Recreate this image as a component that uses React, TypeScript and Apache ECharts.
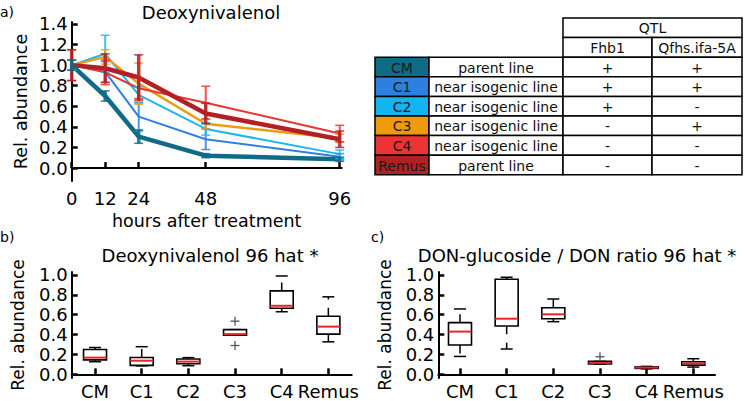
import React, { useEffect, useRef } from "react";
import * as echarts from "echarts";

const FONT = "DejaVu Sans";

// ---- panel a: time course ----
const hours = [0, 12, 24, 48, 96];
const yTicksTop = [0, 0.2, 0.4, 0.6, 0.8, 1.0, 1.2, 1.4];
const lineNames = ["CM", "C1", "C2", "C3", "C4", "Remus"];
const lineColors = ["#0f6b87", "#2f80e0", "#1cb5ef", "#ef9a14", "#ea3434", "#b31f24"];
const lineWidths = [4.5, 2, 2, 2.5, 2, 4.5];
const cmMean = [1.0, 0.70, 0.305, 0.12, 0.085];
const cmErr = [0.05, 0.05, 0.065, 0.02, 0.02];
const c1Mean = [1.0, 0.935, 0.50, 0.28, 0.11];
const c1Err = [0.05, 0.1, 0.14, 0.1, 0.03];
const c2Mean = [1.0, 1.11, 0.71, 0.38, 0.135];
const c2Err = [0.05, 0.18, 0.08, 0.06, 0.04];
const c3Mean = [1.0, 1.08, 0.82, 0.43, 0.29];
const c3Err = [0.05, 0.07, 0.2, 0.05, 0.04];
const c4Mean = [1.0, 0.93, 0.775, 0.635, 0.335];
const c4Err = [0.15, 0.12, 0.1, 0.16, 0.08];
const remusMean = [1.0, 0.97, 0.88, 0.53, 0.28];
const remusErr = [0.15, 0.14, 0.22, 0.1, 0.08];
const means = [cmMean, c1Mean, c2Mean, c3Mean, c4Mean, remusMean];
const errs = [cmErr, c1Err, c2Err, c3Err, c4Err, remusErr];
const drawOrder = [1, 2, 3, 4, 5, 0];

// ---- panels b, c: box plots ----
const boxCats = ["CM", "C1", "C2", "C3", "C4", "Remus"];
const boxTicks = [1, 2, 3, 4, 5, 6];
const yTicksBox = [0, 0.2, 0.4, 0.6, 0.8, 1.0];
// [low whisker, q1, median, q3, high whisker]
const donBoxes = [
  [0.127, 0.145, 0.168, 0.25, 0.27],
  [0.085, 0.09, 0.137, 0.17, 0.278],
  [0.087, 0.107, 0.128, 0.155, 0.168],
  [0.395, 0.395, 0.405, 0.45, 0.45],
  [0.63, 0.665, 0.69, 0.84, 0.99],
  [0.327, 0.405, 0.48, 0.585, 0.78],
];
const donOutliers = [
  [4, 0.535],
  [4, 0.29],
];
const ratioBoxes = [
  [0.18, 0.295, 0.43, 0.52, 0.658],
  [0.255, 0.487, 0.56, 0.957, 0.977],
  [0.53, 0.56, 0.604, 0.67, 0.758],
  [0.105, 0.105, 0.115, 0.13, 0.13],
  [0.055, 0.06, 0.068, 0.075, 0.08],
  [0.073, 0.093, 0.11, 0.127, 0.157],
];
const ratioOutliers = [[4, 0.177]];

// ---- table ----
const tableColors = ["#0e6c86", "#2d80e0", "#14b4f0", "#ef9a0c", "#ed3434", "#b02222"];
const tableDesc = ["parent line", "near isogenic line", "near isogenic line", "near isogenic line", "near isogenic line", "parent line"];
const tableFhb1 = ["+", "+", "+", "-", "-", "-"];
const tableQfhs = ["+", "+", "-", "+", "-", "-"];

const axisLine = { show: true, lineStyle: { color: "#000", width: 2 } };
const tickBase = { show: true, inside: true, length: 6, lineStyle: { color: "#000", width: 2.5 } };
const labelBase = { color: "#000", fontFamily: FONT, fontSize: 18 };
const nameStyle = { color: "#000", fontFamily: FONT, fontSize: 17.5 };

function boxRender(params: any, api: any) {
  const i = api.value(0);
  const low = api.value(1), q1 = api.value(2), med = api.value(3), q3 = api.value(4), high = api.value(5);
  const x = api.coord([i, med])[0];
  const Y = (v: number) => api.coord([i, v])[1];
  const hw = 11.5, cw = 6;
  const black = { stroke: "#000", lineWidth: 1.5 };
  const dash = { stroke: "#000", lineWidth: 1.5, lineDash: [8.4, 8.4] };
  return {
    type: "group",
    children: [
      { type: "line", shape: { x1: x, y1: Y(q3), x2: x, y2: Y(high) }, style: dash },
      { type: "line", shape: { x1: x, y1: Y(q1), x2: x, y2: Y(low) }, style: dash },
      { type: "line", shape: { x1: x - cw, y1: Y(high), x2: x + cw, y2: Y(high) }, style: black },
      { type: "line", shape: { x1: x - cw, y1: Y(low), x2: x + cw, y2: Y(low) }, style: black },
      { type: "rect", shape: { x: x - hw, y: Y(q3), width: 2 * hw, height: Y(q1) - Y(q3) }, style: { fill: "#fff", stroke: "#000", lineWidth: 1.6 } },
      { type: "line", shape: { x1: x - hw, y1: Y(med), x2: x + hw, y2: Y(med) }, style: { stroke: "#e8262a", lineWidth: 2 } },
    ],
  };
}

function plusRender(params: any, api: any) {
  const p = api.coord([api.value(0), api.value(1)]);
  const s = 4.5;
  const st = { stroke: "#555", lineWidth: 1.3 };
  return {
    type: "group",
    children: [
      { type: "line", shape: { x1: p[0] - s, y1: p[1], x2: p[0] + s, y2: p[1] }, style: st },
      { type: "line", shape: { x1: p[0], y1: p[1] - s, x2: p[0], y2: p[1] + s }, style: st },
    ],
  };
}

function buildTable() {
  const els: any[] = [];
  const cx = [375, 429, 563, 652, 742];
  const top = 18;
  const rh = 19.6;
  const stroke = { stroke: "#000", lineWidth: 1.5 };
  const tfont = `14px '${FONT}'`;
  const txt = (t: string, x: number, y: number, fill = "#111") => ({
    type: "text",
    x,
    y,
    style: { text: t, align: "center", verticalAlign: "middle", font: tfont, fill },
    z: 10,
  });
  els.push({ type: "rect", shape: { x: cx[2], y: top, width: cx[4] - cx[2], height: rh }, style: { fill: "#fff", ...stroke } });
  els.push(txt("QTL", (cx[2] + cx[4]) / 2, top + rh / 2 + 0.5));
  els.push({ type: "rect", shape: { x: cx[2], y: top + rh, width: cx[3] - cx[2], height: rh }, style: { fill: "#fff", ...stroke } });
  els.push({ type: "rect", shape: { x: cx[3], y: top + rh, width: cx[4] - cx[3], height: rh }, style: { fill: "#fff", ...stroke } });
  els.push(txt("Fhb1", (cx[2] + cx[3]) / 2, top + rh * 1.5 + 0.5));
  els.push(txt("Qfhs.ifa-5A", (cx[3] + cx[4]) / 2, top + rh * 1.5 + 0.5));
  for (let r = 0; r < lineNames.length; r++) {
    const y = top + rh * (2 + r);
    const vals = [lineNames[r], tableDesc[r], tableFhb1[r], tableQfhs[r]];
    for (let c = 0; c < 4; c++) {
      els.push({
        type: "rect",
        shape: { x: cx[c], y, width: cx[c + 1] - cx[c], height: rh },
        style: { fill: c === 0 ? tableColors[r] : "#fff", ...stroke },
      });
      els.push(txt(vals[c], (cx[c] + cx[c + 1]) / 2, y + rh / 2 + 0.5, c === 0 ? "#1a1a1a" : "#111"));
    }
  }
  return els;
}

export default function App() {
  const ref = useRef<HTMLDivElement>(null);
  useEffect(() => {
    document.body.style.margin = "0";
    const chart = echarts.init(ref.current!, null, { renderer: "svg" });
    const series: any[] = [];
    drawOrder.forEach((k) => {
      series.push({
        type: "line",
        name: lineNames[k],
        xAxisIndex: 0,
        yAxisIndex: 0,
        data: hours.map((h, i) => [h, means[k][i]]),
        symbol: "none",
        lineStyle: { color: lineColors[k], width: lineWidths[k] },
        itemStyle: { color: lineColors[k] },
        z: 2,
      });
      series.push({
        type: "custom",
        xAxisIndex: 0,
        yAxisIndex: 0,
        silent: true,
        data: hours.map((h, i) => [h, means[k][i], errs[k][i]]),
        encode: { x: 0, y: 1 },
        z: 3,
        renderItem: (params: any, api: any) => {
          const x = api.value(0), y = api.value(1), e = api.value(2);
          const t = api.coord([x, y + e]);
          const b = api.coord([x, y - e]);
          const w = lineWidths[k] > 3 ? 3.5 : 2;
          const st = { stroke: lineColors[k], lineWidth: w, opacity: 0.85 };
          const cw = 4.5;
          return {
            type: "group",
            children: [
              { type: "line", shape: { x1: t[0], y1: t[1], x2: b[0], y2: b[1] }, style: st },
              { type: "line", shape: { x1: t[0] - cw, y1: t[1], x2: t[0] + cw, y2: t[1] }, style: { ...st, lineWidth: 1.5 } },
              { type: "line", shape: { x1: b[0] - cw, y1: b[1], x2: b[0] + cw, y2: b[1] }, style: { ...st, lineWidth: 1.5 } },
            ],
          };
        },
      });
    });
    [donBoxes, ratioBoxes].forEach((boxes, g) => {
      series.push({
        type: "custom",
        xAxisIndex: g + 1,
        yAxisIndex: g + 1,
        silent: true,
        data: boxes.map((b, i) => [i + 1, ...b]),
        encode: { x: 0, y: [1, 2, 3, 4, 5] },
        renderItem: boxRender,
        z: 3,
      });
      series.push({
        type: "custom",
        xAxisIndex: g + 1,
        yAxisIndex: g + 1,
        silent: true,
        data: g === 0 ? donOutliers : ratioOutliers,
        encode: { x: 0, y: 1 },
        renderItem: plusRender,
        z: 3,
      });
    });

    const boxX = (gi: number, min: number, max: number) => ({
      type: "value",
      gridIndex: gi,
      min,
      max,
      axisLine,
      axisTick: { ...tickBase, customValues: boxTicks },
      axisLabel: { ...labelBase, customValues: boxTicks, margin: 4.5, formatter: (v: number) => boxCats[Math.round(v) - 1] ?? "" },
      splitLine: { show: false },
    });
    const boxY = (gi: number) => ({
      type: "value",
      gridIndex: gi,
      min: -0.037,
      max: 1.03,
      axisLine,
      axisTick: { ...tickBase, customValues: yTicksBox },
      axisLabel: { ...labelBase, customValues: yTicksBox, margin: 4, formatter: (v: number) => v.toFixed(1) },
      splitLine: { show: false },
      name: "Rel. abundance",
      nameLocation: "middle",
      nameGap: 45,
      nameTextStyle: { ...nameStyle, fontSize: 17 },
    });

    const option: any = {
      animation: false,
      backgroundColor: "#fff",
      textStyle: { fontFamily: FONT },
      grid: [
        { left: 71.7, top: 22, width: 270, height: 159, outerBoundsMode: "none" },
        { left: 71.7, top: 272, width: 280, height: 106, outerBoundsMode: "none" },
        { left: 438.3, top: 272, width: 276.7, height: 106, outerBoundsMode: "none" },
      ],
      xAxis: [
        {
          type: "value",
          gridIndex: 0,
          min: 0,
          max: 96.7,
          axisLine,
          axisTick: { ...tickBase, customValues: hours },
          axisLabel: { ...labelBase, customValues: hours, margin: 8 },
          splitLine: { show: false },
          name: "hours after treatment",
          nameLocation: "middle",
          nameGap: 31,
          nameTextStyle: nameStyle,
        },
        boxX(1, 0.5, 6.5),
        boxX(2, 0.535, 6.465),
      ],
      yAxis: [
        {
          type: "value",
          gridIndex: 0,
          min: -0.126,
          max: 1.419,
          axisLine,
          axisTick: { ...tickBase, customValues: yTicksTop },
          axisLabel: { ...labelBase, customValues: yTicksTop, margin: 4, formatter: (v: number) => v.toFixed(1) },
          splitLine: { show: false },
          name: "Rel. abundance",
          nameLocation: "middle",
          nameGap: 42,
          nameTextStyle: nameStyle,
        },
        boxY(1),
        boxY(2),
      ],
      graphic: [
        { type: "text", x: 211, y: 12, style: { text: "Deoxynivalenol", align: "center", verticalAlign: "middle", font: `18px '${FONT}'`, fill: "#000" } },
        { type: "text", x: 210, y: 255, style: { text: "Deoxynivalenol 96 hat *", align: "center", verticalAlign: "middle", font: `18px '${FONT}'`, fill: "#000" } },
        { type: "text", x: 577, y: 255, style: { text: "DON-glucoside / DON ratio 96 hat *", align: "center", verticalAlign: "middle", font: `18px '${FONT}'`, fill: "#000" } },
        { type: "text", x: 0, y: 12, style: { text: "a)", align: "left", verticalAlign: "middle", font: `14px '${FONT}'`, fill: "#000" } },
        { type: "text", x: 0, y: 237, style: { text: "b)", align: "left", verticalAlign: "middle", font: `14px '${FONT}'`, fill: "#000" } },
        { type: "text", x: 371, y: 237, style: { text: "c)", align: "left", verticalAlign: "middle", font: `14px '${FONT}'`, fill: "#000" } },
        ...buildTable(),
      ],
      series,
    };
    chart.setOption(option);
    return () => chart.dispose();
  }, []);
  return <div ref={ref} style={{ width: 745, height: 401 }} />;
}
